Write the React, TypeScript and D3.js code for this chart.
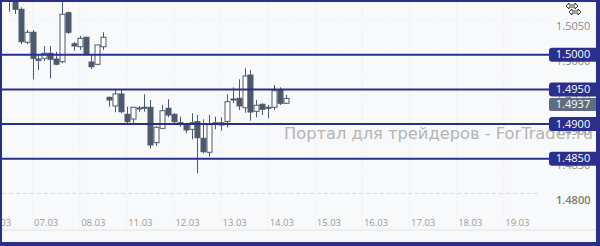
import React from "react";
import * as d3 from "d3";

// OHLC candles (3h)
const opens = [1.5092,1.5086,1.50654,1.50179,1.50323,1.49938,1.49948,1.5002,1.49938,1.49899,1.50605,1.50158,1.50115,1.50251,1.49895,1.49862,1.50115,
  1.49386,1.49261,1.49434,1.49141,1.49073,1.49232,1.49232,1.49242,1.48732,1.48939,1.49228,1.49141,1.4902,1.48987,1.48925,1.49035,1.48795,1.48594,1.49001,1.48987,1.49035,1.49362,1.49372,1.49236,1.49707,1.49184,1.49285,1.49242,1.49242,1.49491,1.493];
const highs = [1.51,1.509,1.50683,1.50356,1.50356,1.49996,1.50125,1.50125,1.50043,1.509,1.5062,1.50187,1.50269,1.50259,1.49996,1.5014,1.50323,
  1.49395,1.49491,1.49501,1.49251,1.49242,1.49261,1.49429,1.49347,1.48973,1.49275,1.49357,1.49156,1.49107,1.4902,1.49156,1.49131,1.49069,1.49131,1.49107,1.49098,1.49429,1.4953,1.49645,1.49804,1.49779,1.49347,1.493,1.49275,1.49563,1.4953,1.49419];
const lows = [1.5062,1.50586,1.5015,1.5015,1.49645,1.49779,1.49909,1.4966,1.49847,1.49876,1.50298,1.50058,1.50068,1.49996,1.49794,1.49847,1.50068,
  1.49251,1.4917,1.49156,1.49001,1.48997,1.49179,1.49179,1.48651,1.48684,1.48929,1.49098,1.48987,1.48962,1.48867,1.48781,1.48291,1.48579,1.4853,1.48925,1.48905,1.48954,1.493,1.49203,1.49164,1.49049,1.49098,1.49131,1.49084,1.49203,1.49275,1.4929];
const closes = [1.5086,1.50654,1.50187,1.50323,1.49948,1.49919,1.5002,1.49934,1.49862,1.50582,1.50323,1.50125,1.50236,1.50006,1.49827,1.5014,1.50251,
  1.49347,1.49434,1.49179,1.49035,1.49242,1.49218,1.49242,1.48699,1.48954,1.49193,1.49131,1.49035,1.48997,1.48915,1.4902,1.48804,1.48602,1.49001,1.4902,1.4902,1.49323,1.49347,1.49261,1.49693,1.49174,1.49271,1.49213,1.49236,1.49481,1.493,1.4937];

const dateLabels = ["06.03","07.03","08.03","11.03","12.03","13.03","14.03","15.03","16.03","17.03","18.03","19.03"];
const dateIndex = [-4,4,12,20,28,36,44,52,60,68,76,84];
const priceTicks = [1.505,1.5,1.495,1.49,1.485,1.48];
const levels = [1.5,1.495,1.49,1.485];
const lastPrice = 1.4937;
const watermark = "Портал для трейдеров - ForTrader.ru";

const W = 600, H = 246;
const NAVY = "#2b2f8c";
const CANDLE = "#4d5a6e";
const FONT = "'Open Sans', 'DejaVu Sans', sans-serif";

export default function App() {
  const x = d3.scaleLinear().domain([0, 47]).range([9, 9 + 47 * 5.89]);
  const y = d3.scaleLinear().domain([1.48, 1.505]).range([193.5, 20]);
  const fmt = d3.format(".4f");
  const bw = 5;
  const candles = opens.map((o, i) => ({ o, h: highs[i], l: lows[i], c: closes[i], i }));
  const lastY = y(lastPrice);
  const badgeLastY = Math.max(lastY, y(1.495) + 15);

  return (
    <svg width={W} height={H} style={{ position: "absolute", left: 0, top: 0 }} xmlns="http://www.w3.org/2000/svg">
      <defs>
        <clipPath id="plot"><rect x={2} y={2} width={546} height={228} /></clipPath>
      </defs>
      <rect x={0} y={0} width={W} height={H} fill="#f8f9fa" />
      {/* vertical grid */}
      {dateIndex.map((d, k) => (
        <line key={"vg" + k} x1={x(d)} x2={x(d)} y1={2} y2={230} stroke="#e6e8ec" strokeDasharray="1,2" />
      ))}
      {/* horizontal grid */}
      {priceTicks.map((p, k) => (
        p === 1.48 ?
          <line key={"hg" + k} x1={2} x2={540} y1={y(p)} y2={y(p)} stroke="#e6dcc4" strokeDasharray="4,3" /> :
          <line key={"hg" + k} x1={2} x2={548} y1={y(p)} y2={y(p)} stroke="#e6e8ec" strokeDasharray="1,2" />
      ))}
      <line x1={2} x2={597} y1={230} y2={230} stroke="#e2e2e2" />
      {/* date labels */}
      {dateIndex.map((d, k) => (
        <text key={"dl" + k} x={x(d) + 1.5} y={226} fontSize={9.5} fontFamily={FONT} fill="#9a9a9a">{dateLabels[k]}</text>
      ))}
      {/* watermark */}
      <text x={284} y={139} fontSize={16} fontFamily="'DejaVu Sans', Verdana, sans-serif" fill="#b4b4b4" textLength={309} lengthAdjust="spacingAndGlyphs">{watermark}</text>
      {/* candles */}
      <g clipPath="url(#plot)">
        {candles.map((d) => {
          const cx = Math.round(x(d.i)) + 0.5;
          const up = d.c >= d.o;
          const top = y(Math.max(d.o, d.c));
          const bot = y(Math.min(d.o, d.c));
          return (
            <g key={"c" + d.i}>
              <line x1={cx} x2={cx} y1={y(d.h)} y2={y(d.l)} stroke={CANDLE} strokeWidth={1} />
              <rect x={cx - bw / 2} y={top} width={bw} height={Math.max(1, bot - top)}
                fill={up ? "#ffffff" : CANDLE} stroke={CANDLE} strokeWidth={1} />
            </g>
          );
        })}
      </g>
      {/* level lines */}
      {levels.map((p, k) => (
        <line key={"lv" + k} x1={2} x2={550} y1={y(p)} y2={y(p)} stroke={NAVY} strokeWidth={2} />
      ))}
      {/* price axis labels */}
      {priceTicks.map((p, k) => (
        <text key={"pt" + k} x={556} y={y(p) + 7.5} dominantBaseline="middle" fontSize={11} fontFamily={FONT}
          fill={p === 1.48 ? "#7a7a70" : "#8c8c8c"} fontWeight={p === 1.48 ? 600 : 400}>{fmt(p)}</text>
      ))}
      {/* level badges */}
      {levels.map((p, k) => (
        <g key={"bd" + k}>
          <rect x={549} y={y(p) - 7} width={52} height={14} rx={3} fill={NAVY} />
          <text x={573} y={y(p) + 0.5} textAnchor="middle" dominantBaseline="middle" fontSize={11} fontFamily={FONT} fill="#ffffff">{fmt(p)}</text>
        </g>
      ))}
      <rect x={549} y={badgeLastY - 6.5} width={52} height={13} rx={2} fill="#5f6d7e" />
      <text x={573} y={badgeLastY + 0.5} textAnchor="middle" dominantBaseline="middle" fontSize={11} fontFamily={FONT} fill="#ffffff">{fmt(lastPrice)}</text>
      {/* zoom icon */}
      <g stroke="#111" strokeWidth={0.8} fill="#fff">
        <path d="M566,6 l3,-3 v2 h6 v-2 l3,3 l-3,3 v-2 h-6 v2 z" />
        <path d="M569,12 l3,-3 v2 h6 v-2 l3,3 l-3,3 v-2 h-6 v2 z" />
      </g>
      {/* frame */}
      <rect x={1} y={1} width={596} height={242} fill="none" stroke={NAVY} strokeWidth={2} />
      <rect x={596} y={0} width={4} height={H} fill={NAVY} />
      <rect x={0} y={242} width={W} height={4} fill={NAVY} />
      <rect x={0} y={0} width={2} height={H} fill={NAVY} />
      <rect x={0} y={0} width={W} height={2} fill={NAVY} />
    </svg>
  );
}
